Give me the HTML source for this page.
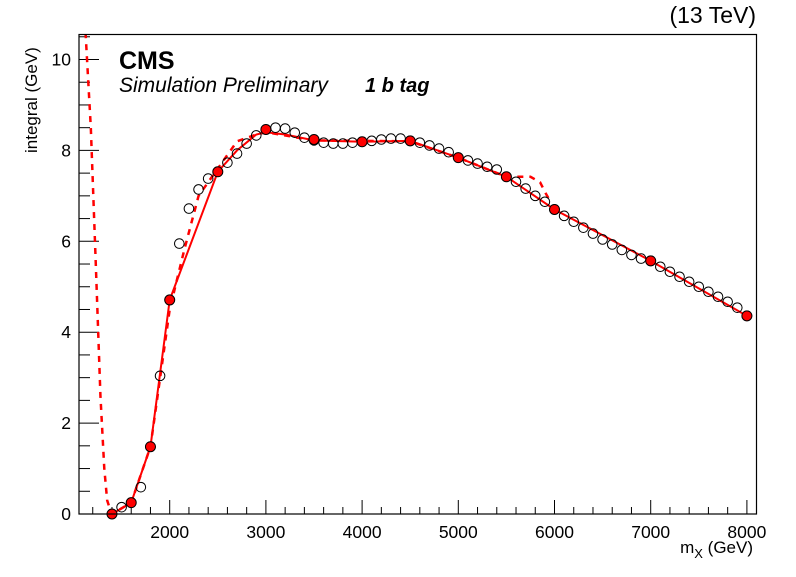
<!DOCTYPE html>
<html><head><meta charset="utf-8"><style>
body{margin:0;background:#fff;}
svg text{font-family:"Liberation Sans",sans-serif;}
</style></head><body>
<svg id="c" width="796" height="572" xmlns="http://www.w3.org/2000/svg">
<rect width="796" height="572" fill="#fff"/>
<g id="plot"></g>
<rect x="79" y="34.5" width="677.5" height="479.5" fill="none" stroke="#000" stroke-width="1.2"/>
<text x="119" y="69" font-size="25" font-weight="bold">CMS</text>
<text x="119" y="92" font-size="21" font-style="italic">Simulation Preliminary</text>
<text x="365" y="92" font-size="20" font-style="italic" font-weight="bold">1 b tag</text>
<text x="756" y="23" font-size="23" text-anchor="end">(13 TeV)</text>
<text x="753" y="553" font-size="17" text-anchor="end">m<tspan font-size="13" dy="5">X</tspan><tspan dy="-5"> (GeV)</tspan></text>
<text transform="translate(37,153) rotate(-90)" font-size="17" text-anchor="start">integral (GeV)</text>
</svg>
<script>
const openX=[1500,1600,1700,1800,1900,2000,2100,2200,2300,2400,2500,2600,2700,2800,2900,3000,3100,3200,3300,3400,3500,3600,3700,3800,3900,4000,4100,4200,4300,4400,4500,4600,4700,4800,4900,5000,5100,5200,5300,5400,5500,5600,5700,5800,5900,6000,6100,6200,6300,6400,6500,6600,6700,6800,6900,7000,7100,7200,7300,7400,7500,7600,7700,7800,7900,8000];
const openY=[0.15,0.25,0.59,1.48,3.04,4.71,5.95,6.72,7.14,7.38,7.53,7.73,7.93,8.15,8.33,8.46,8.50,8.48,8.39,8.28,8.22,8.17,8.15,8.15,8.17,8.19,8.21,8.24,8.26,8.26,8.21,8.17,8.11,8.04,7.96,7.84,7.78,7.71,7.64,7.58,7.42,7.31,7.16,7.00,6.87,6.70,6.56,6.43,6.30,6.17,6.04,5.93,5.81,5.70,5.62,5.57,5.44,5.33,5.22,5.11,5.00,4.89,4.78,4.67,4.54,4.36];
const fillX=[1400,1600,1800,2000,2500,3000,3500,4000,4500,5000,5500,6000,7000,8000];
const fillY=[0,0.25,1.48,4.71,7.53,8.46,8.24,8.19,8.21,7.84,7.42,6.70,5.57,4.36];
const solidX=[1400,1600,1800,2000,2500,2700,2900,3000,3200,3500,4000,4500,5000,5500,6000,7000,8000];
const solidY=[0,0.25,1.48,4.71,7.53,8.0,8.35,8.4,8.35,8.22,8.19,8.21,7.84,7.42,6.70,5.57,4.36];
const dashX=[1125,1180,1230,1280,1320,1350,1380,1400,1600,1800,2000,2150,2300,2500,2700,2900,3000,3500,4500,5000,5500,5750,5850,5910,5950];
const dashY=[10.6,8.5,5.6,2.6,1.0,0.3,0.1,0,0.25,1.48,4.5,5.8,7.0,7.6,8.2,8.35,8.4,8.22,8.2,7.84,7.42,7.42,7.3,7.05,6.9];
const xTicks=[2000,3000,4000,5000,6000,7000,8000];
const yTicks=[0,2,4,6,8,10];
const xs=v=>169.7+(v-2000)*0.0962;
const ys=v=>514-v*45.45;
const NS="http://www.w3.org/2000/svg";
const g=document.getElementById('plot');
function mk(t,a){const e=document.createElementNS(NS,t);for(const k in a)e.setAttribute(k,a[k]);g.appendChild(e);return e;}
for(let v=1200;v<=8000;v+=200){const maj=v%1000===0;const e=mk('line',{x1:xs(v),x2:xs(v),y1:514,y2:maj?500:507,stroke:'#000','stroke-width':1});

}
xTicks.forEach(v=>{const t=mk('text',{x:xs(v),y:538,'font-size':17.5,'text-anchor':'middle'});t.textContent=v;

});
for(let v=0;v<=10.5;v+=0.5){const maj=Math.abs(v%2)<1e-9;const e=mk('line',{x1:79,x2:maj?99:90,y1:ys(v),y2:ys(v),stroke:'#000','stroke-width':1});

}
yTicks.forEach(v=>{const t=mk('text',{x:71,y:ys(v)+6,'font-size':17.5,'text-anchor':'end'});t.textContent=v;

});
const cp=document.createElementNS(NS,'clipPath');cp.setAttribute('id','cl');const cr=document.createElementNS(NS,'rect');cr.setAttribute('x',79);cr.setAttribute('y',34.5);cr.setAttribute('width',677.5);cr.setAttribute('height',479.5);cp.appendChild(cr);g.appendChild(cp);
const d1=mk('polyline',{points:dashX.map((x,i)=>xs(x)+','+ys(dashY[i])).join(' '),fill:'none',stroke:'#f00','stroke-width':2.5,'stroke-dasharray':'6,6','clip-path':'url(#cl)'});


const s1=mk('polyline',{points:solidX.map((x,i)=>xs(x)+','+ys(solidY[i])).join(' '),fill:'none',stroke:'#f00','stroke-width':2});


openX.forEach((x,i)=>{const c=mk('circle',{cx:xs(x),cy:ys(openY[i]),r:4.8,fill:'none',stroke:'#000','stroke-width':1});

});
fillX.forEach((x,i)=>{const c=mk('circle',{cx:xs(x),cy:ys(fillY[i]),r:5,fill:'#f00',stroke:'#000','stroke-width':1});

});
</script>
</body></html>
